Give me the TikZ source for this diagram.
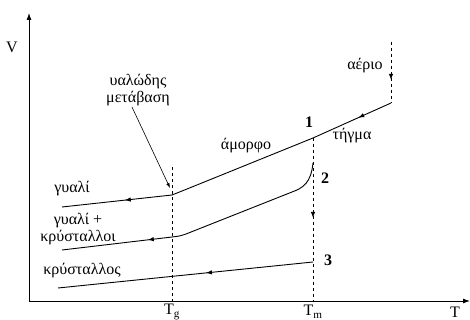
\documentclass[tikz,border=0pt]{standalone}
\usepackage{fontspec}
\setmainfont{Liberation Serif}
\usetikzlibrary{arrows.meta, decorations.markings}

\begin{document}
\begin{tikzpicture}[x=1pt, y=-1pt,
    lbl/.style={font=\fontsize{16}{17}\selectfont, inner sep=1pt},
    num/.style={font=\fontsize{16}{17}\selectfont\bfseries, inner sep=1pt},
    curve/.style={line width=0.9pt},
    guide/.style={dashed, line width=0.8pt},
    midarrow/.style={postaction={decorate}, decoration={markings,
        mark=at position #1 with {\arrow[solid]{Latex[length=6pt,width=4.5pt]}}}}]
    \useasboundingbox (0,0) rectangle (470,320);

    % Axes
    \coordinate (O) at (29,301);
    \coordinate (ytop) at (29,13);
    \coordinate (xend) at (470,301);
    \draw[line width=0.9pt, -{Latex[length=7pt,width=5pt]}] (O) -- (ytop);
    \draw[line width=0.9pt, -{Latex[length=7pt,width=5pt]}] (O) -- (xend);
    \node[lbl] (vlab) at (12,47) {V};
    \node[lbl] (tlab) at (455,312) {T};

    % Key points
    \coordinate (g0) at (391,42);
    \coordinate (g1) at (391,103);
    \coordinate (p1) at (313,138);
    \coordinate (p2) at (313,163);
    \coordinate (p3) at (313,262);
    \coordinate (tgtop) at (172,167);
    \coordinate (tgbot) at (172,301);
    \coordinate (tmbot) at (313,301);

    % T_g and T_m guides
    \draw[guide] (tgtop) -- (tgbot);
    \draw[guide, midarrow=0.49] (p1) -- (tmbot);
    \node[lbl] (tg) at (172,312) {T\textsubscript{g}};
    \node[lbl] (tm) at (313,312) {T\textsubscript{m}};

    % Gas and liquid
    \draw[guide, midarrow=0.62] (g0) -- (g1);
    \draw[curve, midarrow=0.42] (g1) -- (p1);

    % 1: amorphous -> glass
    \coordinate (a0) at (187,189);
    \coordinate (a1) at (172,195);
    \coordinate (a2) at (62,207);
    \draw[curve] (p1) -- (a0) .. controls (180,192) .. (a1);
    \draw[curve, midarrow=0.43] (a1) -- (a2);

    % 2: glass + crystals
    \coordinate (b0) at (292,192);
    \coordinate (b1) at (186,234);
    \coordinate (b2) at (172,237);
    \coordinate (b3) at (62,250);
    \draw[curve] (p2) .. controls (311,183) and (303,188) .. (b0) -- (b1)
        .. controls (180,236) .. (b2);
    \draw[curve, midarrow=0.22] (b2) -- (b3);

    % 3: crystal
    \coordinate (c1) at (58,288);
    \draw[curve, midarrow=0.42] (p3) -- (c1);

    % Labels
    \node[lbl] (gas) at (365,66) {αέριο};
    \node[lbl] (melt) at (352,136) {τήγμα};
    \node[lbl] (amorph) at (246,146) {άμορφο};
    \node[lbl] (glass) at (72,189) {γυαλί};
    \node[lbl, align=center] (mixed) at (78,229) {γυαλί +\\κρύσταλλοι};
    \node[lbl] (cryst) at (82,271) {κρύσταλλος};
    \node[lbl, align=center] (trans) at (138,90) {υαλώδης\\μετάβαση};
    \node[num] (n1) at (309,122) {1};
    \node[num] (n2) at (325,178) {2};
    \node[num] (n3) at (328,260) {3};

    % Glass transition pointer
    \coordinate (tgmark) at (170,188);
    \draw[line width=0.6pt, -{Latex[length=5pt,width=3.5pt]}] ([xshift=-6pt]trans.south) -- (tgmark);
\end{tikzpicture}
\end{document}
